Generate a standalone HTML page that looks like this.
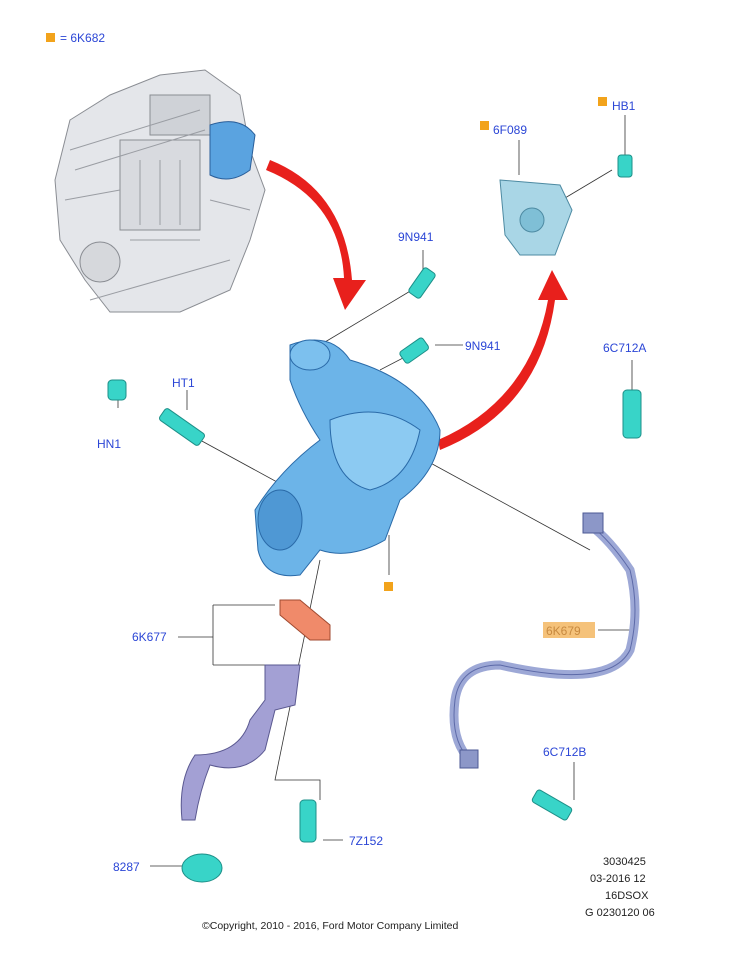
<!DOCTYPE html>
<html><head><meta charset="utf-8"><style>
html,body{margin:0;padding:0;background:#fff;}
svg{display:block;}
.l{font-family:"Liberation Sans",sans-serif;font-size:12px;fill:#2b46d6;}
.k{font-family:"Liberation Sans",sans-serif;font-size:11px;fill:#222;}
</style></head><body>
<svg width="751" height="954" viewBox="0 0 751 954" xmlns="http://www.w3.org/2000/svg">
<rect x="0" y="0" width="751" height="954" fill="#fff"/>
<rect x="46" y="33" width="9" height="9" fill="#f2a31b"/>
<text x="60" y="42" class="l">= 6K682</text>
<!-- engine -->
<g fill="#e4e6ea" stroke="#8a8d93" stroke-width="1">
<path d="M70 120 L110 95 L160 75 L205 70 L240 95 L250 150 L265 190 L250 240 L230 290 L180 312 L110 312 L85 280 L60 240 L55 180 Z"/>
<circle cx="100" cy="262" r="20" fill="#d6d8dc"/>
<rect x="120" y="140" width="80" height="90" fill="#d8dadf"/>
<rect x="150" y="95" width="60" height="40" fill="#cfd2d7"/>
</g>
<g stroke="#9a9da3" stroke-width="1" fill="none">
<path d="M70 150 L200 110 M75 170 L205 130 M65 200 L120 190 M130 240 L200 240 M90 300 L230 260 M210 200 L250 210 M140 160 L140 225 M160 160 L160 225 M180 160 L180 225"/>
</g>
<path d="M210 125 Q240 115 255 135 L250 170 Q230 185 210 175 Z" fill="#5aa3e0" stroke="#2a5f9a"/>
<!-- red arrows -->
<path d="M270 160 Q345 190 352 280 L366 280 L345 310 L333 278 L344 278 Q340 200 266 170 Z" fill="#e8201c"/>
<path d="M440 450 Q540 410 555 300 L568 300 L552 270 L538 300 L548 300 Q530 400 438 440 Z" fill="#e8201c"/>
<g stroke="#333" stroke-width="0.8" fill="none">
<path d="M423 250 L423 272"/><path d="M412 290 L320 345"/>
<path d="M463 345 L435 345"/><path d="M380 370 L428 345"/>
<path d="M187 390 L187 410"/><path d="M118 408 L118 390"/>
<path d="M200 440 L310 500"/>
<path d="M519 140 L519 175"/><path d="M625 115 L625 155"/><path d="M612 170 L565 198"/>
<path d="M632 360 L632 395"/>
<path d="M370 430 L590 550"/>
<path d="M389 535 L389 575"/>
<path d="M178 637 L213 637 M213 605 L213 665 M213 605 L275 605 M213 665 L268 665"/>
<path d="M320 560 L275 780 L320 780 L320 800"/>
<path d="M598 630 L637 630"/>
<path d="M574 762 L574 800"/>
<path d="M150 866 L182 866"/>
<path d="M323 840 L343 840"/>
</g>
<!-- turbo -->
<g fill="#6cb4e8" stroke="#2a6aa8" stroke-width="1">
<path d="M290 345 Q330 330 350 360 Q420 380 440 430 Q440 470 400 500 L385 540 Q350 560 320 550 L300 575 Q265 580 258 550 L255 510 Q280 470 320 440 Q300 410 290 380 Z"/>
<ellipse cx="280" cy="520" rx="22" ry="30" fill="#4f98d4"/>
<ellipse cx="310" cy="355" rx="20" ry="15" fill="#7cc0ee"/>
<path d="M330 420 Q380 400 420 430 Q410 480 370 490 Q330 480 330 420 Z" fill="#8ccaf2"/>
</g>
<path d="M500 180 L560 185 L572 210 L555 255 L520 255 L505 235 Z" fill="#a9d6e6" stroke="#4d8aa2"/>
<circle cx="532" cy="220" r="12" fill="#7fbfd6" stroke="#4d8aa2"/>
<g fill="#38d4c8" stroke="#1d8f88">
<rect x="618" y="155" width="14" height="22" rx="3"/>
<rect x="415" y="268" width="14" height="30" rx="3" transform="rotate(35 422 283)"/>
<rect x="408" y="337" width="14" height="28" rx="3" transform="rotate(55 415 350)"/>
<rect x="108" y="380" width="18" height="20" rx="4"/>
<rect x="175" y="403" width="14" height="48" rx="3" transform="rotate(-55 182 427)"/>
<rect x="623" y="390" width="18" height="48" rx="4"/>
<rect x="545" y="785" width="14" height="40" rx="3" transform="rotate(-60 552 805)"/>
<rect x="300" y="800" width="16" height="42" rx="4"/>
<ellipse cx="202" cy="868" rx="20" ry="14"/>
</g>
<path d="M280 600 L300 600 L330 625 L330 640 L310 640 L280 615 Z" fill="#f08a6a" stroke="#a04a30"/>
<path d="M265 665 L300 665 L295 705 L275 710 L265 750 Q245 775 210 765 Q200 790 195 820 L182 820 Q178 780 195 755 Q240 755 250 720 L265 700 Z" fill="#a3a0d4" stroke="#5a5890"/>
<path d="M590 525 Q610 540 630 570 Q640 610 630 650 Q610 690 500 665 Q460 665 455 700 Q450 740 470 760" fill="none" stroke="#9da8d6" stroke-width="9"/>
<path d="M590 525 Q610 540 630 570 Q640 610 630 650 Q610 690 500 665 Q460 665 455 700 Q450 740 470 760" fill="none" stroke="#5d6aa8" stroke-width="1"/>
<rect x="583" y="513" width="20" height="20" fill="#8c97c8" stroke="#4d5a94"/>
<rect x="460" y="750" width="18" height="18" fill="#8c97c8" stroke="#4d5a94"/>
<rect x="598" y="97" width="9" height="9" fill="#f2a31b"/>
<text x="612" y="110" class="l">HB1</text>
<rect x="480" y="121" width="9" height="9" fill="#f2a31b"/>
<text x="493" y="134" class="l">6F089</text>
<text x="398" y="241" class="l">9N941</text>
<text x="465" y="350" class="l">9N941</text>
<text x="603" y="352" class="l">6C712A</text>
<text x="172" y="387" class="l">HT1</text>
<text x="97" y="448" class="l">HN1</text>
<rect x="384" y="582" width="9" height="9" fill="#f2a31b"/>
<text x="132" y="641" class="l">6K677</text>
<rect x="543" y="622" width="52" height="16" fill="#f5c27a"/>
<text x="546" y="635" class="l" style="fill:#c88a40">6K679</text>
<text x="543" y="756" class="l">6C712B</text>
<text x="113" y="871" class="l">8287</text>
<text x="349" y="845" class="l">7Z152</text>
<text x="603" y="865" class="k">3030425</text>
<text x="590" y="882" class="k">03-2016 12</text>
<text x="605" y="899" class="k">16DSOX</text>
<text x="585" y="916" class="k">G 0230120 06</text>
<text x="202" y="929" class="k" style="font-size:10.5px">©Copyright, 2010 - 2016, Ford Motor Company Limited</text>
</svg>
</body></html>
